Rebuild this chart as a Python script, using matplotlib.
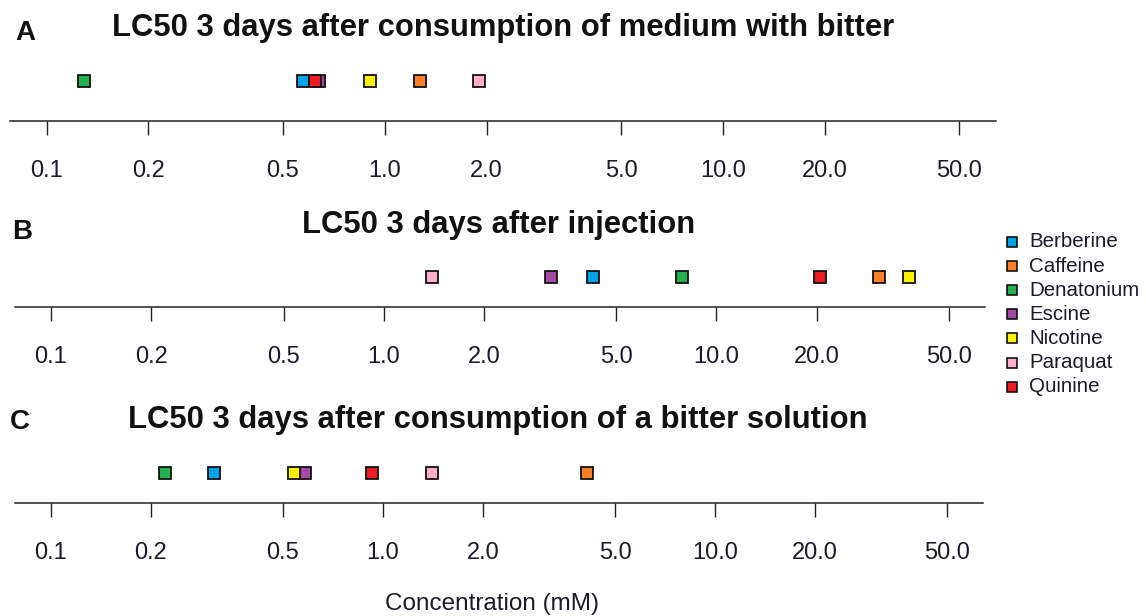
import numpy as np
import matplotlib
matplotlib.use("Agg")
import matplotlib.pyplot as plt
from matplotlib.lines import Line2D

plt.rcParams['font.family'] = ['Liberation Sans', 'DejaVu Sans']

compounds = ["Berberine", "Caffeine", "Denatonium", "Escine", "Nicotine", "Paraquat", "Quinine"]
colors = ["#00A2E8", "#FF7F27", "#22B14C", "#A349A4", "#FFF200", "#FFAEC9", "#ED1C24"]

# LC50 values (mM), order as compounds
lc50_medium = [0.574, 1.27, 0.129, 0.64, 0.906, 1.90, 0.62]
lc50_injection = [4.25, 30.8, 7.89, 3.18, 37.9, 1.40, 20.5]
lc50_solution = [0.310, 4.11, 0.221, 0.582, 0.540, 1.41, 0.926]

tick_values = [0.1, 0.2, 0.5, 1.0, 2.0, 5.0, 10.0, 20.0, 50.0]
tick_labels = ["0.1", "0.2", "0.5", "1.0", "2.0", "5.0", "10.0", "20.0", "50.0"]

panel_titles = ["LC50 3 days after consumption of medium with bitter",
                "LC50 3 days after injection",
                "LC50 3 days after consumption of a bitter solution"]
panel_letters = ["A", "B", "C"]
panel_data = [lc50_medium, lc50_injection, lc50_solution]

W, H = 1146, 616
fig = plt.figure(figsize=(W / 100, H / 100), dpi=100)

def fx(x):
    return x / W

def fy(y):
    return 1 - y / H

# axes geometry in pixels: left, right, axis-line y, marker offset above axis
geom = [(10, 996, 121, 40), (15, 985, 307, 30), (15, 983, 503, 30)]
title_pos = [(503, 28), (499, 225), (498, 420)]
letter_pos = [(25, 33), (22, 232), (20, 422)]

lo, hi = np.log10(0.1), np.log10(50)
ext = 0.04 * (hi - lo)
xlim = (10 ** (lo - ext), 10 ** (hi + ext))

for i in range(3):
    l, r, yax, off = geom[i]
    h = 60
    ax = fig.add_axes([fx(l), fy(yax), fx(r - l), h / H])
    ax.set_xscale('log')
    ax.set_xlim(*xlim)
    ax.set_ylim(0, h)
    for s in ['top', 'left', 'right']:
        ax.spines[s].set_visible(False)
    ax.spines['bottom'].set_linewidth(1.1)
    ax.spines['bottom'].set_color('#222222')
    ax.set_yticks([])
    ax.set_xticks(tick_values)
    ax.set_xticklabels(tick_labels)
    ax.xaxis.set_minor_locator(matplotlib.ticker.NullLocator())
    ax.tick_params(axis='x', direction='out', length=10, width=1.0, color='#222222',
                   labelsize=17, pad=18, labelcolor='#1a1a2a')
    for v, c in zip(panel_data[i], colors):
        ax.plot([v], [off], marker='s', ms=8.2, mfc=c, mec='#111111', mew=1.3,
                linestyle='none', clip_on=False)
    tx, ty = title_pos[i]
    fig.text(fx(tx), fy(ty), panel_titles[i], ha='center', va='center',
             fontsize=22.3, fontweight='bold', color='#111111')
    lx, ly = letter_pos[i]
    fig.text(fx(lx), fy(ly), panel_letters[i], ha='center', va='center',
             fontsize=20, fontweight='bold', color='#111111')

# legend
leg_y0, leg_dy = 242, 24.1
for k, (name, c) in enumerate(zip(compounds, colors)):
    y = leg_y0 + k * leg_dy
    fig.add_artist(Line2D([fx(1012)], [fy(y)], transform=fig.transFigure, marker='s',
                          ms=7.8, mfc=c, mec='#111111', mew=1.2, linestyle='none'))
    fig.text(fx(1029), fy(y), name, ha='left', va='center', fontsize=14.8,
             color='#1a1a2a')

fig.text(fx(492), fy(604), "Concentration (mM)", ha='center', va='center',
         fontsize=17.5, color='#1a1a2a')

fig.savefig("out.png", dpi=100)
